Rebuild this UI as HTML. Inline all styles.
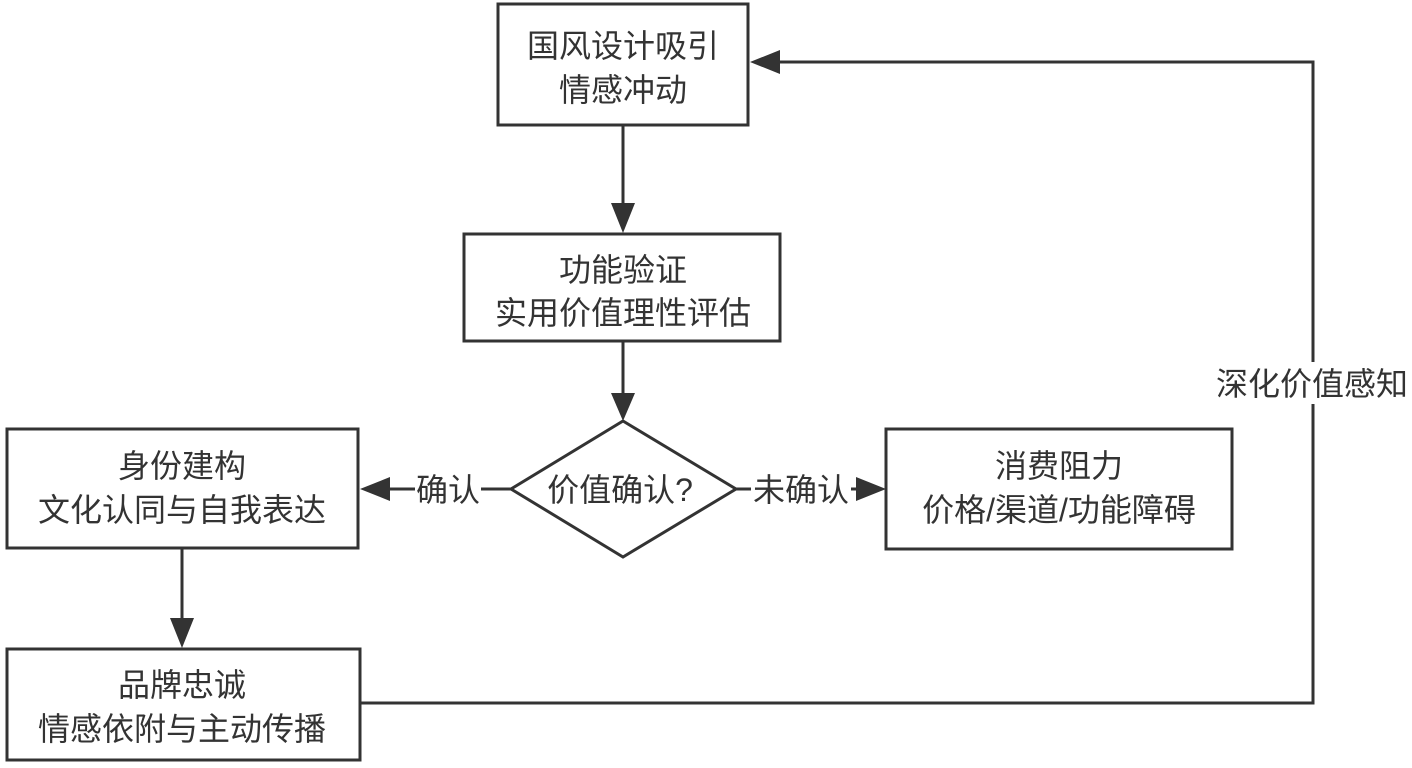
<!DOCTYPE html>
<html><head><meta charset="utf-8"><style>
html,body{margin:0;padding:0;background:#fff;}
svg text{font-family:"Liberation Sans","Noto Sans CJK SC",sans-serif;font-size:32px;fill:#333;}
</style></head><body>
<svg width="1412" height="763" viewBox="0 0 1412 763" xmlns="http://www.w3.org/2000/svg">
<g fill="none" stroke="#333" stroke-width="3">
<rect x="498" y="4" width="250" height="121"/>
<rect x="464" y="234" width="316" height="107"/>
<polygon points="623,421 736,489 623,557 511,489"/>
<rect x="7" y="429" width="351" height="119"/>
<rect x="886" y="429" width="346" height="120"/>
<rect x="7" y="649" width="353" height="111"/>
<line x1="623" y1="125" x2="623" y2="205"/>
<line x1="623" y1="341" x2="623" y2="395"/>
<line x1="182" y1="548" x2="182" y2="620"/>
<line x1="390" y1="489" x2="511" y2="489"/>
<line x1="736" y1="489" x2="858" y2="489"/>
<polyline points="360,703 1313,703 1313,62 778,62"/>
</g>
<g fill="#333">
<polygon points="611,203 635,203 623,233"/>
<polygon points="611,393 635,393 623,421"/>
<polygon points="170,618 194,618 182,648"/>
<polygon points="390,477 390,501 360,489"/>
<polygon points="856,477 856,501 886,489"/>
<polygon points="780,50 780,74 750,62"/>
</g>
<rect x="415" y="470" width="66" height="38" fill="#fff"/>
<rect x="751" y="470" width="100" height="38" fill="#fff"/>
<rect x="1212" y="362" width="200" height="42" fill="#fff"/>
<g text-anchor="middle">
<text x="623" y="57">国风设计吸引</text>
<text x="623" y="101">情感冲动</text>
<text x="623" y="281">功能验证</text>
<text x="623" y="324">实用价值理性评估</text>
<text x="620" y="501">价值确认?</text>
<text x="448" y="501">确认</text>
<text x="801" y="501">未确认</text>
<text x="182" y="477">身份建构</text>
<text x="182" y="521">文化认同与自我表达</text>
<text x="1059" y="477">消费阻力</text>
<text x="1059" y="521">价格/渠道/功能障碍</text>
<text x="182" y="696">品牌忠诚</text>
<text x="182" y="740">情感依附与主动传播</text>
<text x="1312" y="395">深化价值感知</text>
</g>
</svg>
</body></html>
